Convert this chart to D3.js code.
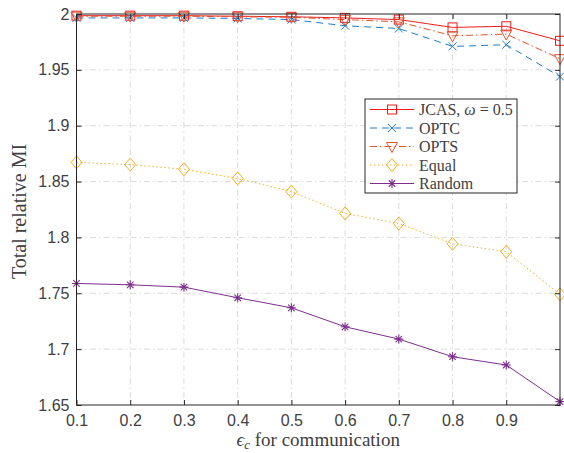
<!DOCTYPE html>
<html>
<head>
<meta charset="utf-8">
<script src="https://cdn.jsdelivr.net/npm/d3@7"></script>
<style>
  body { margin: 0; background: #fff; }
  svg { display: block; }
</style>
</head>
<body>
<svg id="chart" width="564" height="453"></svg>
<script>
// x values (epsilon_c)
const epsC = [0.1, 0.2, 0.3, 0.4, 0.5, 0.6, 0.7, 0.8, 0.9, 1.0];

const jcas   = [1.9985, 1.9985, 1.9985, 1.998, 1.9975, 1.9965, 1.995, 1.988, 1.989, 1.976];
const optc   = [1.9965, 1.9965, 1.9965, 1.996, 1.995, 1.9895, 1.987, 1.971, 1.9725, 1.944];
const opts   = [1.998, 1.998, 1.998, 1.9975, 1.997, 1.995, 1.993, 1.9805, 1.982, 1.960];
const equal  = [1.8672, 1.8652, 1.861, 1.8528, 1.841, 1.8215, 1.8125, 1.7943, 1.7872, 1.749];
const random = [1.7588, 1.7576, 1.7555, 1.746, 1.737, 1.720, 1.709, 1.6932, 1.6858, 1.653];

const xTicks = [0.1, 0.2, 0.3, 0.4, 0.5, 0.6, 0.7, 0.8, 0.9];
const yTicks = [1.65, 1.7, 1.75, 1.8, 1.85, 1.9, 1.95, 2];

const series = [
  { name: "JCAS", values: jcas, color: "#f21c1c", dash: null, marker: "square" },
  { name: "OPTC", values: optc, color: "#1f7bc6", dash: "7,5", marker: "x" },
  { name: "OPTS", values: opts, color: "#e0542a", dash: "7,3,1.5,3", marker: "tri" },
  { name: "Equal", values: equal, color: "#f0b020", dash: "1.5,2.5", marker: "diamond" },
  { name: "Random", values: random, color: "#7e2f8e", dash: null, marker: "star" }
];

const svg = d3.select("svg#chart");
const margin = { top: 14, right: 4, bottom: 48, left: 76.5 };
const width = 564, height = 453;
const plotW = width - margin.left - margin.right;
const plotH = height - margin.top - margin.bottom;

const x = d3.scaleLinear().domain([0.1, 1.0]).range([0, plotW]);
const y = d3.scaleLinear().domain([1.65, 2]).range([plotH, 0]);

const plot = svg.append("g")
  .attr("transform", "translate(" + margin.left + "," + margin.top + ")");

// grid (dash-dot like matlab)
const grid = plot.append("g").attr("class", "grid");
grid.selectAll("line.gx")
  .data(xTicks.slice(1))
  .enter().append("line")
  .attr("x1", d => x(d)).attr("x2", d => x(d))
  .attr("y1", 0).attr("y2", plotH)
  .attr("stroke", "#dadada").attr("stroke-width", 1)
  .attr("stroke-dasharray", "6,3,1.5,3");
grid.selectAll("line.gy")
  .data(yTicks.slice(1, -1))
  .enter().append("line")
  .attr("y1", d => y(d)).attr("y2", d => y(d))
  .attr("x1", 0).attr("x2", plotW)
  .attr("stroke", "#dadada").attr("stroke-width", 1)
  .attr("stroke-dasharray", "6,3,1.5,3");

// lines
const line = d3.line()
  .x((d, i) => x(epsC[i]))
  .y(d => y(d));

series.forEach(s => {
  plot.append("path")
    .attr("d", line(s.values))
    .attr("fill", "none")
    .attr("stroke", s.color)
    .attr("stroke-width", 1)
    .attr("stroke-dasharray", s.dash);
});

function drawMarker(g, type, cx, cy, color) {
  if (type === "square") {
    g.append("rect")
      .attr("x", cx - 4.5).attr("y", cy - 4.5)
      .attr("width", 9).attr("height", 9)
      .attr("fill", "none").attr("stroke", color).attr("stroke-width", 1);
  } else if (type === "x") {
    g.append("path")
      .attr("d", "M" + (cx - 4) + "," + (cy - 4) + "L" + (cx + 4) + "," + (cy + 4) +
                 "M" + (cx - 4) + "," + (cy + 4) + "L" + (cx + 4) + "," + (cy - 4))
      .attr("stroke", color).attr("stroke-width", 1).attr("fill", "none");
  } else if (type === "tri") {
    g.append("path")
      .attr("d", "M" + (cx - 5.5) + "," + (cy - 4) + "L" + (cx + 5.5) + "," + (cy - 4) +
                 "L" + cx + "," + (cy + 6) + "Z")
      .attr("stroke", color).attr("stroke-width", 1).attr("fill", "none");
  } else if (type === "diamond") {
    g.append("path")
      .attr("d", "M" + cx + "," + (cy - 6.5) + "L" + (cx + 5.5) + "," + cy +
                 "L" + cx + "," + (cy + 6.5) + "L" + (cx - 5.5) + "," + cy + "Z")
      .attr("stroke", color).attr("stroke-width", 1).attr("fill", "none");
  } else if (type === "star") {
    let r = 4.5;
    let p = "M" + (cx - r) + "," + cy + "L" + (cx + r) + "," + cy +
            "M" + cx + "," + (cy - r) + "L" + cx + "," + (cy + r) +
            "M" + (cx - r * 0.72) + "," + (cy - r * 0.72) + "L" + (cx + r * 0.72) + "," + (cy + r * 0.72) +
            "M" + (cx - r * 0.72) + "," + (cy + r * 0.72) + "L" + (cx + r * 0.72) + "," + (cy - r * 0.72);
    g.append("path").attr("d", p)
      .attr("stroke", color).attr("stroke-width", 1.1).attr("fill", "none");
  }
}

series.forEach(s => {
  let g = plot.append("g");
  s.values.forEach((v, i) => drawMarker(g, s.marker, x(epsC[i]), y(v), s.color));
});

// axes box
const axisColor = "#262626";
const textColor = "#404040";
plot.append("rect")
  .attr("x", 0).attr("y", 0).attr("width", plotW).attr("height", plotH)
  .attr("fill", "none").attr("stroke", axisColor).attr("stroke-width", 1);

const xAxis = d3.axisBottom(x).tickValues(xTicks).tickSizeInner(-5).tickSizeOuter(0).tickPadding(10)
  .tickFormat(d3.format(".1f"));
const yAxis = d3.axisLeft(y).tickValues(yTicks).tickSizeInner(-5).tickSizeOuter(0).tickPadding(7)
  .tickFormat(d => d === 2 ? "2" : d3.format(".2~f")(d));

const gx = plot.append("g").attr("transform", "translate(0," + plotH + ")").call(xAxis);
const gy = plot.append("g").call(yAxis);
[gx, gy].forEach(g => {
  g.select(".domain").remove();
  g.selectAll("line").attr("stroke", axisColor);
  g.selectAll("text").attr("fill", textColor)
    .style("font-family", "'Liberation Sans', Arial, sans-serif").style("font-size", "16px");
});

// mirrored ticks on top/right
plot.append("g").call(d3.axisTop(x).tickValues(xTicks).tickSizeInner(-5).tickSizeOuter(0).tickFormat(""))
  .call(g => { g.select(".domain").remove(); g.selectAll("line").attr("stroke", axisColor); });
plot.append("g").attr("transform", "translate(" + plotW + ",0)")
  .call(d3.axisRight(y).tickValues(yTicks).tickSizeInner(-5).tickSizeOuter(0).tickFormat(""))
  .call(g => { g.select(".domain").remove(); g.selectAll("line").attr("stroke", axisColor); });

// axis labels
const serif = "'Liberation Serif', 'DejaVu Serif', serif";
const xl = svg.append("text")
  .attr("x", margin.left + plotW / 2).attr("y", 446)
  .attr("text-anchor", "middle")
  .attr("fill", textColor)
  .style("font-family", serif).style("font-size", "19px");
xl.append("tspan").style("font-style", "italic").text("\u03F5");
xl.append("tspan").style("font-style", "italic").style("font-size", "13px").attr("dy", 3).text("c");
xl.append("tspan").attr("dy", -3).text(" for communication");

svg.append("text")
  .attr("transform", "translate(26," + (margin.top + plotH / 2 + 2) + ") rotate(-90)")
  .attr("text-anchor", "middle")
  .attr("fill", textColor)
  .style("font-family", serif).style("font-size", "20px")
  .text("Total relative MI");

// legend
const leg = svg.append("g").attr("transform", "translate(365,99)");
leg.append("rect")
  .attr("x", 0).attr("y", 0).attr("width", 152).attr("height", 94)
  .attr("fill", "#fff").attr("stroke", axisColor).attr("stroke-width", 1);

const legNames = ["JCAS", "OPTC", "OPTS", "Equal", "Random"];
series.forEach((s, i) => {
  let yy = 10.5 + i * 18.5;
  leg.append("line")
    .attr("x1", 5).attr("x2", 49).attr("y1", yy).attr("y2", yy)
    .attr("stroke", s.color).attr("stroke-width", 1)
    .attr("stroke-dasharray", s.dash);
  drawMarker(leg, s.marker, 27, yy, s.color);
  let t = leg.append("text")
    .attr("x", 54).attr("y", yy + 5.5)
    .attr("fill", textColor)
    .style("font-family", serif).style("font-size", "16px");
  if (i === 0) {
    t.append("tspan").text("JCAS, ");
    t.append("tspan").style("font-style", "italic").text("\u03C9");
    t.append("tspan").text(" = 0.5");
  } else {
    t.text(legNames[i]);
  }
});
</script>
</body>
</html>
